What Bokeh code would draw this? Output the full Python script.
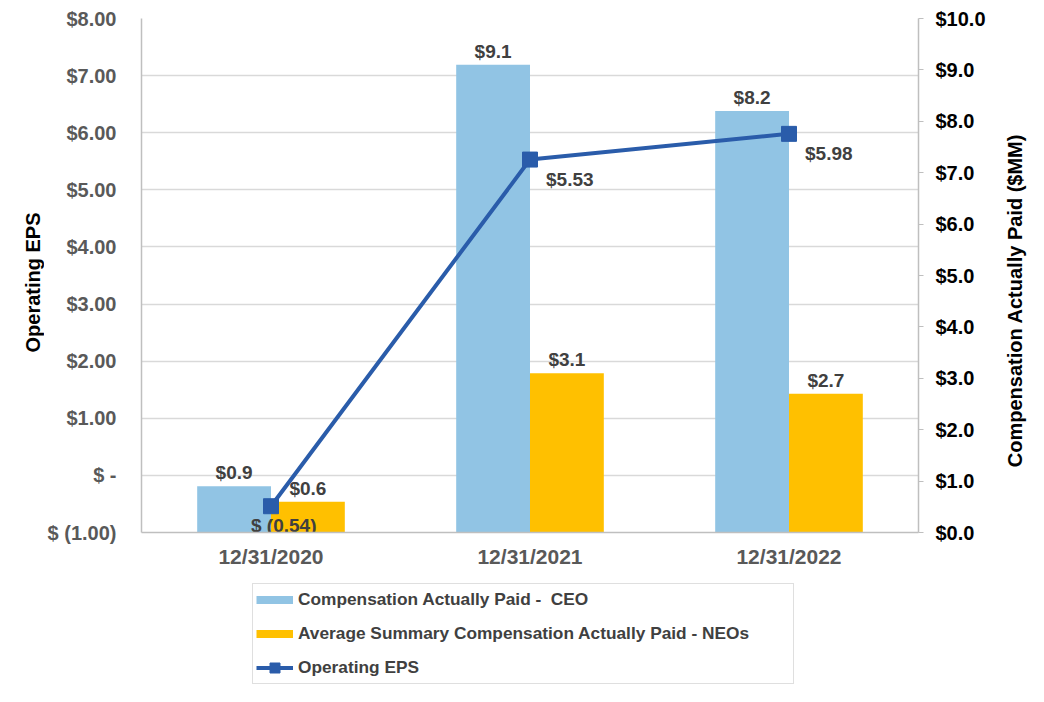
import math
from bokeh.plotting import figure
from bokeh.layouts import column, row
from bokeh.models import (Range1d, LinearAxis, FixedTicker, NumeralTickFormatter,
                          ColumnDataSource, Legend, LegendItem, Label)
from bokeh.core.properties import value
from bokeh.embed import file_html
from bokeh.resources import INLINE

# ---- data ----
dates = ["12/31/2020", "12/31/2021", "12/31/2022"]
ceo_cap = [0.9, 9.1, 8.2]          # $MM, right axis
neo_cap = [0.6, 3.1, 2.7]          # $MM, right axis
op_eps = [-0.54, 5.53, 5.98]       # $, left axis
eps_ticks = [-1, 0, 1, 2, 3, 4, 5, 6, 7, 8]
cap_ticks = [0, 1, 2, 3, 4, 5, 6, 7, 8, 9, 10]
series_names = ["Compensation Actually Paid -  CEO",
                "Average Summary Compensation Actually Paid - NEOs",
                "Operating EPS"]
left_title = "Operating EPS"
right_title = "Compensation Actually Paid ($MM)"

FONT = "Liberation Sans"
BLUE_BAR = "#91C4E4"
GOLD = "#FFC000"
LINE = "#2A5CAA"
GRAY_AX = "#BFBFBF"

def money_eps(v):
    if v < 0:
        return "$ (%.2f)" % abs(v)
    if v == 0:
        return "$ -"
    return "$%.2f" % v

xc = [i + 0.5 for i in range(len(dates))]
bw = 0.285

TOTAL_W, TOTAL_H = 1028, 686
LW = 44                      # left title strip
RW = 40                      # right title strip
MAIN_W = TOTAL_W - LW - RW
MAIN_H = 572
FRAME_L, FRAME_R, FRAME_T, FRAME_B = 140, 918, 18, 532   # page pixels

p = figure(width=MAIN_W, height=MAIN_H, output_backend="svg", toolbar_location=None,
           x_range=Range1d(0, 3), y_range=Range1d(-1, 8),
           min_border_left=FRAME_L - LW, min_border_right=LW + MAIN_W - FRAME_R,
           min_border_top=FRAME_T, min_border_bottom=MAIN_H - FRAME_B)
p.outline_line_color = None
p.background_fill_color = "white"
p.border_fill_color = "white"
p.extra_y_ranges = {"cap": Range1d(0, 10)}

# grid
p.xgrid.grid_line_color = None
p.ygrid.grid_line_color = "#D9D9D9"
p.ygrid.grid_line_width = 1.3
p.ygrid.ticker = FixedTicker(ticks=eps_ticks)

# left axis
la = p.yaxis[0]
la.ticker = FixedTicker(ticks=eps_ticks)
la.major_label_overrides = {t: money_eps(t) for t in eps_ticks}
la.axis_line_color = GRAY_AX
la.axis_line_width = 1.5
la.major_tick_line_color = None
la.minor_tick_line_color = None
la.major_tick_out = 0
la.major_tick_in = 0
la.major_label_standoff = 25
la.major_label_text_font = FONT
la.major_label_text_font_style = "bold"
la.major_label_text_font_size = "20px"
la.major_label_text_color = "#595959"

# bottom axis
ba = p.xaxis[0]
ba.ticker = FixedTicker(ticks=xc)
ba.major_label_overrides = {x: d for x, d in zip(xc, dates)}
ba.axis_line_color = GRAY_AX
ba.axis_line_width = 1.5
ba.major_tick_line_color = None
ba.minor_tick_line_color = None
ba.major_tick_out = 0
ba.major_tick_in = 0
ba.major_label_standoff = 12
ba.major_label_text_font = FONT
ba.major_label_text_font_style = "bold"
ba.major_label_text_font_size = "21px"
ba.major_label_text_color = "#595959"

# right axis
ra = LinearAxis(y_range_name="cap", ticker=FixedTicker(ticks=cap_ticks),
                formatter=NumeralTickFormatter(format="$0.0"))
ra.axis_line_color = GRAY_AX
ra.axis_line_width = 1.5
ra.major_tick_line_color = GRAY_AX
ra.major_tick_in = 0
ra.major_tick_out = 5
ra.minor_tick_line_color = None
ra.major_label_standoff = 12
ra.major_label_text_font = FONT
ra.major_label_text_font_style = "bold"
ra.major_label_text_font_size = "20px"
ra.major_label_text_color = "black"
p.add_layout(ra, "right")

# bars
src = ColumnDataSource(dict(
    x_ceo=[x - bw / 2 for x in xc], x_neo=[x + bw / 2 for x in xc],
    ceo=ceo_cap, neo=neo_cap,
    ceo_lbl=["$%.1f" % v for v in ceo_cap], neo_lbl=["$%.1f" % v for v in neo_cap]))
p.vbar(x="x_ceo", top="ceo", bottom=0, width=bw, source=src,
       fill_color=BLUE_BAR, line_color=None, y_range_name="cap")
p.vbar(x="x_neo", top="neo", bottom=0, width=bw, source=src,
       fill_color=GOLD, line_color=None, y_range_name="cap")
p.text(x="x_ceo", y="ceo", text="ceo_lbl", source=src, y_range_name="cap",
       text_align="center", text_baseline="bottom", y_offset=-3,
       text_font=value(FONT), text_font_style="bold", text_font_size="19px",
       text_color="#404040")
p.text(x="x_neo", y="neo", text="neo_lbl", source=src, y_range_name="cap",
       text_align="center", text_baseline="bottom", y_offset=-3,
       text_font=value(FONT), text_font_style="bold", text_font_size="19px",
       text_color="#404040")

# line
lsrc = ColumnDataSource(dict(x=xc, y=op_eps, lbl=[money_eps(v) for v in op_eps],
                             xo=[-20 if v < 0 else 16 for v in op_eps],
                             yo=[19 if v < 0 else 20 for v in op_eps]))
p.line(x="x", y="y", source=lsrc, line_color=LINE, line_width=4)
p.scatter(x="x", y="y", source=lsrc, marker="square", size=15,
          fill_color=LINE, line_color=LINE)
p.text(x="x", y="y", text="lbl", source=lsrc, x_offset="xo", y_offset="yo",
       text_align="left", text_baseline="middle",
       text_font=value(FONT), text_font_style="bold", text_font_size="19px",
       text_color="#404040")


def strip(w, h):
    f = figure(width=w, height=h, output_backend="svg", toolbar_location=None,
               x_axis_type=None, y_axis_type=None,
               x_range=Range1d(0, 1), y_range=Range1d(0, 1),
               min_border_left=0, min_border_right=0, min_border_top=0,
               min_border_bottom=0)
    f.outline_line_color = None
    f.grid.visible = False
    return f


# left title strip (frame is aligned with the main plot's frame)
lstrip = strip(LW, MAIN_H)
lstrip.add_layout(Label(x=32, y=FRAME_B - 282, x_units="screen", y_units="screen",
                        text=left_title, angle=math.pi / 2,
                        text_align="center", text_baseline="middle",
                        text_font=FONT, text_font_style="bold", text_font_size="20px",
                        text_color="black"))

# right title strip
rstrip = strip(RW, MAIN_H)
rstrip.add_layout(Label(x=1014 - (LW + MAIN_W), y=FRAME_B - 300,
                        x_units="screen", y_units="screen",
                        text=right_title, angle=math.pi / 2,
                        text_align="center", text_baseline="middle",
                        text_font=FONT, text_font_style="bold", text_font_size="20px",
                        text_color="black"))

# legend strip
LH = TOTAL_H - MAIN_H
lfig = strip(TOTAL_W, LH)
g1 = lfig.line(x=[-10, -9], y=[-10, -10], line_color=BLUE_BAR, line_width=8, line_cap="butt")
g2 = lfig.line(x=[-10, -9], y=[-10, -10], line_color=GOLD, line_width=8, line_cap="butt")
g3 = lfig.line(x=[-10, -9], y=[-10, -10], line_color=LINE, line_width=4)
g4 = lfig.scatter(x=[-10], y=[-10], marker="square", size=10, fill_color=LINE, line_color=LINE)

legend = Legend(items=[
    LegendItem(label=series_names[0], renderers=[g1]),
    LegendItem(label=series_names[1], renderers=[g2]),
    LegendItem(label=series_names[2], renderers=[g3, g4]),
], location=(252, 2), orientation="vertical")
legend.glyph_width = 37
legend.glyph_height = 25
legend.label_height = 22
legend.label_width = 492
legend.spacing = 9
legend.padding = 3
legend.margin = 0
legend.label_standoff = 5
legend.label_text_font = FONT
legend.label_text_font_style = "bold"
legend.label_text_font_size = "17.3px"
legend.label_text_color = "#404040"
legend.border_line_color = GRAY_AX
legend.border_line_width = 1.5
legend.background_fill_color = "white"
legend.background_fill_alpha = 1
lfig.add_layout(legend, "center")

layout = column(row(lstrip, p, rstrip), lfig)
open("out.html", "w").write(file_html(layout, INLINE))
